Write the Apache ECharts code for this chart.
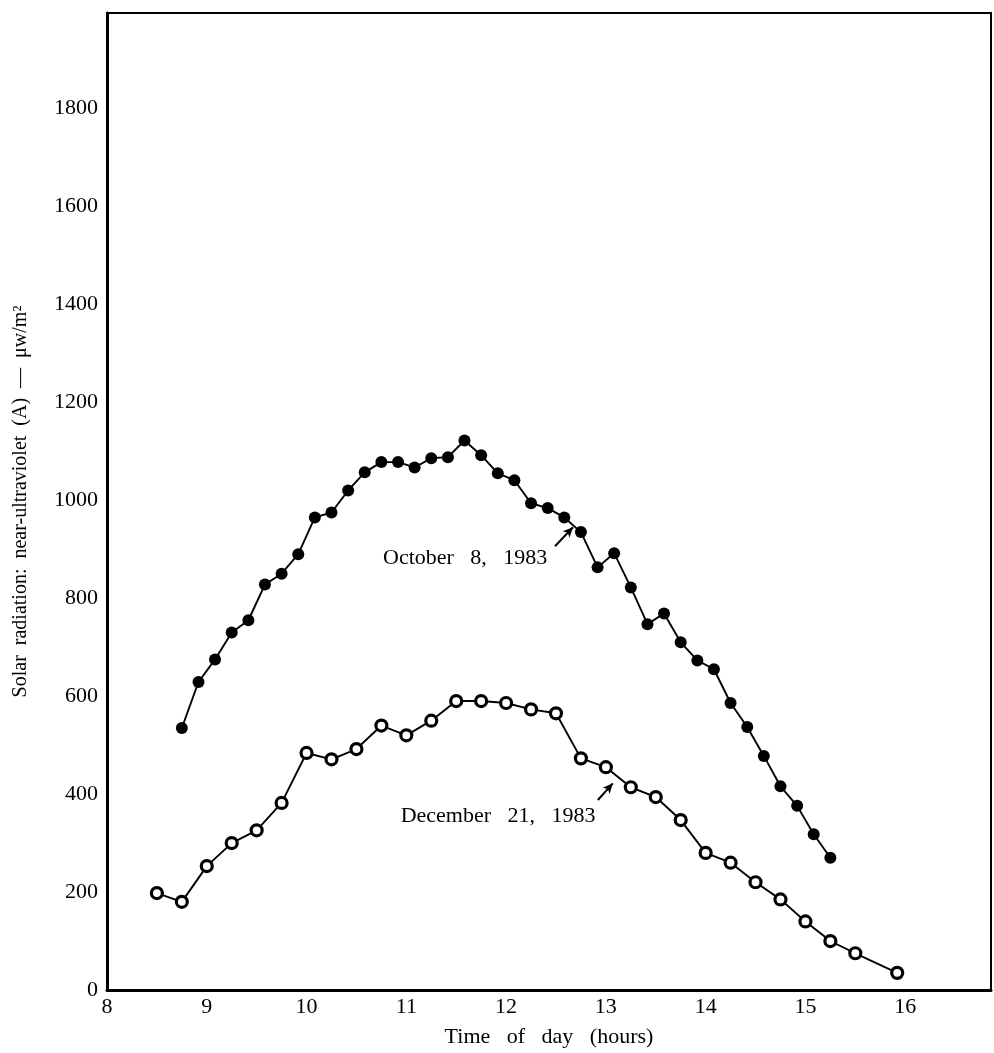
<!DOCTYPE html>
<html>
<head>
<meta charset="utf-8">
<script src="https://cdn.jsdelivr.net/npm/echarts@6/dist/echarts.min.js"></script>
<style>
  html, body { margin: 0; padding: 0; background: #fff; }
  #chart { width: 994px; height: 1053px; }
</style>
</head>
<body>
<div id="chart"></div>
<script>
// Time of day (decimal hours) and radiation readings
const octTimes = [8.75, 8.917, 9.083, 9.25, 9.417, 9.583, 9.75, 9.917,
    10.083, 10.25, 10.417, 10.583, 10.75, 10.917, 11.083, 11.25, 11.417, 11.583,
    11.75, 11.917, 12.083, 12.25, 12.417, 12.583, 12.75, 12.917, 13.083, 13.25,
    13.417, 13.583, 13.75, 13.917, 14.083, 14.25, 14.417, 14.583, 14.75, 14.917,
    15.083, 15.25];
const octValues = [535, 629, 675, 730, 755, 828, 850, 890,
    965, 975, 1020, 1057, 1078, 1078, 1067, 1086, 1088, 1122,
    1092, 1055, 1041, 994, 984, 965, 935, 863, 892, 822,
    747, 769, 710, 673, 655, 586, 537, 478, 416, 376,
    318, 270];

const decTimes = [8.5, 8.75, 9.0, 9.25, 9.5, 9.75, 10.0, 10.25, 10.5, 10.75,
    11.0, 11.25, 11.5, 11.75, 12.0, 12.25, 12.5, 12.75, 13.0, 13.25,
    13.5, 13.75, 14.0, 14.25, 14.5, 14.75, 15.0, 15.25, 15.5, 15.92];
const decValues = [198, 180, 253, 300, 326, 382, 484, 471, 492, 540,
    520, 550, 590, 590, 586, 573, 565, 473, 455, 414,
    394, 347, 280, 260, 220, 185, 140, 100, 75, 35];

const xTicks = [8, 9, 10, 11, 12, 13, 14, 15, 16];
const yTicks = [0, 200, 400, 600, 800, 1000, 1200, 1400, 1600, 1800];

// curve labels and their pointer arrows (data coords)
const octLabel = { text: 'October   8,   1983', at: [11.59, 882], arrow: [[12.49, 906], [12.67, 945]] };
const decLabel = { text: 'December   21,   1983', at: [11.92, 355], arrow: [[12.92, 388], [13.07, 422]] };

const serif = '"Liberation Serif", "DejaVu Serif", serif';

const chart = echarts.init(document.getElementById('chart'));

function pairs(xs, ys) {
    return xs.map((x, i) => [x, ys[i]]);
}

function curveSeries(name, xs, ys, hollow, label) {
    return {
        name: name,
        type: 'line',
        data: pairs(xs, ys),
        symbol: 'circle',
        symbolSize: hollow ? 11 : 12,
        lineStyle: { color: '#000', width: 1.9 },
        itemStyle: hollow
            ? { color: '#fff', borderColor: '#000', borderWidth: 3.2 }
            : { color: '#000', borderColor: '#000', borderWidth: 0 },
        z: 3,
        markPoint: {
            symbol: 'circle',
            symbolSize: 0,
            data: [{ coord: label.at, value: label.text }],
            label: {
                show: true,
                position: 'inside',
                formatter: '{c}',
                color: '#000',
                fontFamily: serif,
                fontSize: 22
            }
        },
        markLine: {
            silent: true,
            symbol: ['none', 'arrow'],
            symbolSize: [7, 10],
            label: { show: false },
            lineStyle: { color: '#000', width: 2, type: 'solid' },
            data: [[{ coord: label.arrow[0] }, { coord: label.arrow[1] }]]
        }
    };
}

const option = {
    animation: false,
    backgroundColor: '#fff',
    grid: {
        left: 107,
        right: 3,
        top: 13,
        bottom: 61,
        show: true,
        borderColor: '#000',
        borderWidth: 2
    },
    xAxis: {
        type: 'value',
        min: 8,
        max: 16.86,
        interval: 1,
        name: 'Time   of   day   (hours)',
        nameLocation: 'middle',
        nameGap: 36,
        nameTextStyle: { fontFamily: serif, fontSize: 22, color: '#000' },
        axisLine: { show: true, lineStyle: { color: '#000', width: 3 } },
        axisTick: { show: false },
        splitLine: { show: false },
        axisLabel: {
            color: '#000',
            fontFamily: serif,
            fontSize: 22,
            margin: 6,
            formatter: v => xTicks.includes(v) ? String(v) : ''
        }
    },
    yAxis: {
        type: 'value',
        min: 0,
        max: 1995,
        interval: 200,
        name: 'Solar  radiation:  near-ultraviolet  (A)  —  μw/m²',
        nameLocation: 'middle',
        nameGap: 76,
        nameRotate: 90,
        nameTextStyle: { fontFamily: serif, fontSize: 20, color: '#000' },
        axisLine: { show: true, lineStyle: { color: '#000', width: 3 } },
        axisTick: { show: false },
        splitLine: { show: false },
        axisLabel: {
            color: '#000',
            fontFamily: serif,
            fontSize: 22,
            margin: 9,
            formatter: v => yTicks.includes(v) ? String(v) : ''
        }
    },
    series: [
        curveSeries('October 8, 1983', octTimes, octValues, false, octLabel),
        curveSeries('December 21, 1983', decTimes, decValues, true, decLabel)
    ]
};

chart.setOption(option);

window.addEventListener('resize', () => {
    chart.resize();
});
</script>
</body>
</html>
